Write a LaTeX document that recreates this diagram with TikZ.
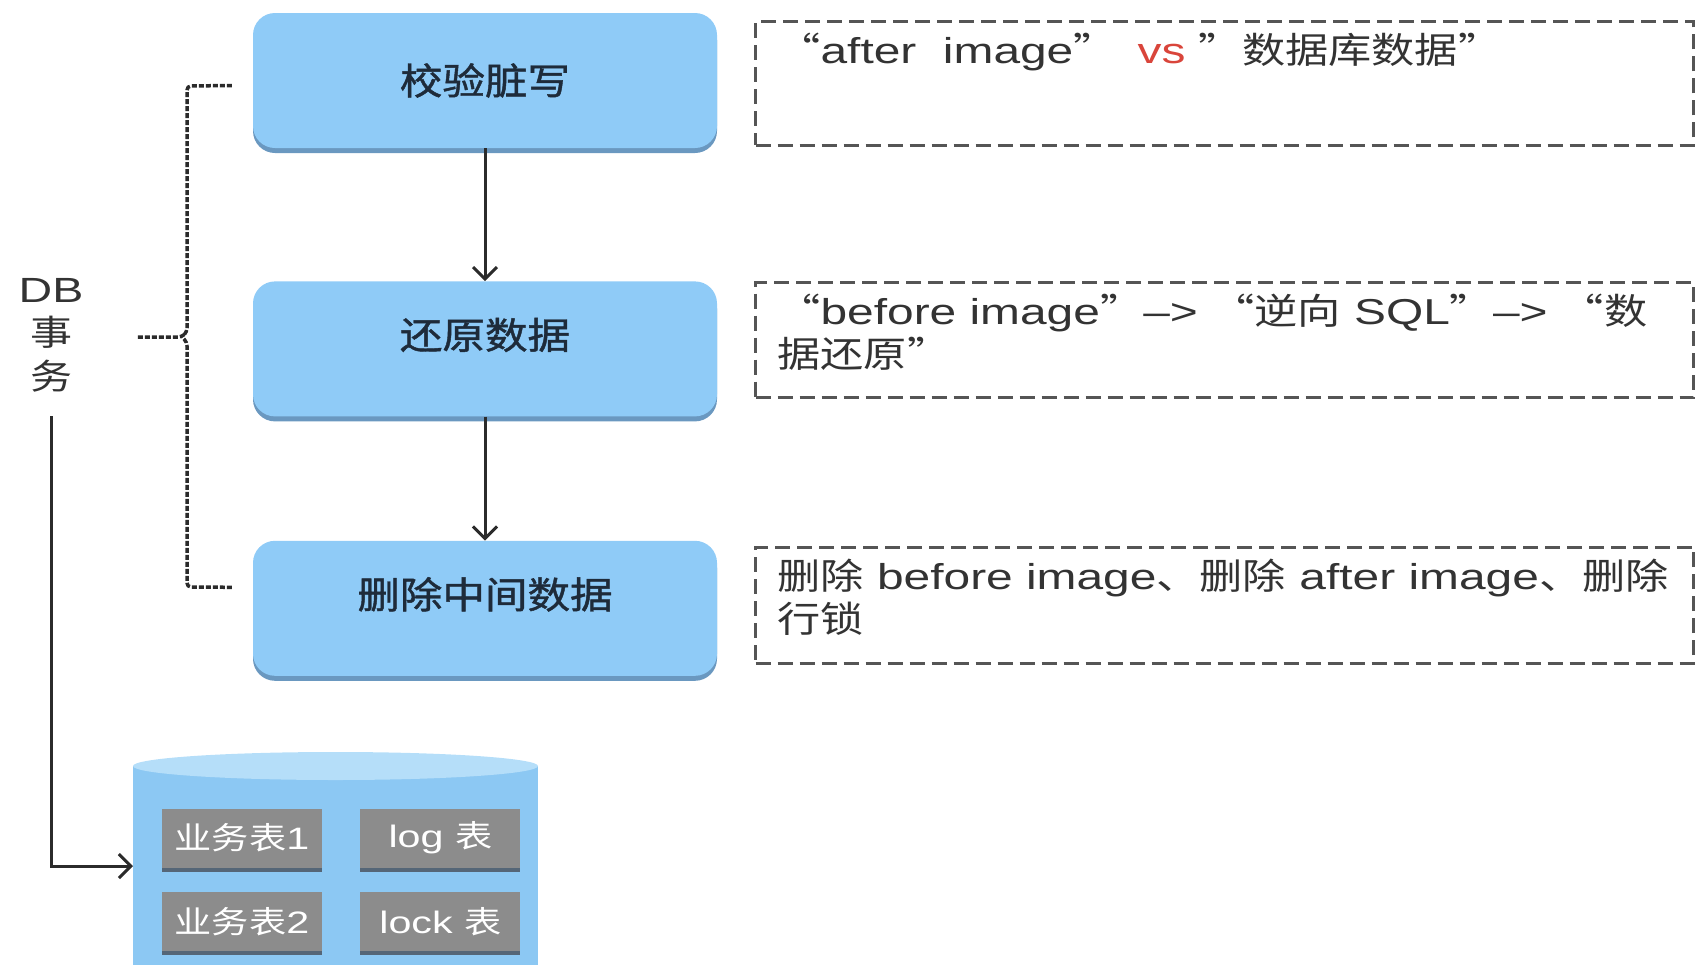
\documentclass[tikz,border=0pt]{standalone}
\usepackage{fontspec}
\setmainfont{Liberation Sans}[FakeStretch=1.33]
\newfontfamily\zh{Noto Sans CJK SC}[FakeStretch=1.2]
\newfontfamily\zhbold{Noto Sans CJK SC}[FakeStretch=1.15, FakeBold=1.2]
\newcommand\tightlines{\lineskiplimit=-30pt\relax}
\usetikzlibrary{arrows.meta, positioning, shadows, calc}

\definecolor{stepblue}{HTML}{8FCBF7}
\definecolor{stepshade}{HTML}{6A98C0}
\definecolor{navytext}{HTML}{1E2B3A}
\definecolor{notegray}{HTML}{555555}
\definecolor{inkgray}{HTML}{333333}
\definecolor{inkdark}{HTML}{2B2B2B}
\definecolor{vsred}{HTML}{D9453B}
\definecolor{dbbody}{HTML}{8CC8F3}
\definecolor{dbtop}{HTML}{B5DEF9}
\definecolor{tblgray}{HTML}{8C8C8C}
\definecolor{tblshade}{HTML}{556677}

\begin{document}
\begin{tikzpicture}[
    x=1pt, y=-1pt,
    stepbox/.style={fill=stepblue, rounded corners=22pt, minimum width=464pt, minimum height=135pt,
        inner sep=0pt, text=navytext, font=\fontsize{37}{40}\selectfont\zhbold,
        drop shadow={shadow xshift=0pt, shadow yshift=-5pt, fill=stepshade, opacity=1}},
    lifted/.style={text depth=31pt},
    note/.style={draw=notegray, line width=3pt, dash pattern=on 15pt off 7pt, minimum width=938pt, inner sep=0pt},
    notetext/.style={anchor=north west, inner sep=0pt, align=left, text=inkgray,
        font=\fontsize{36}{43}\selectfont\tightlines},
    tbl/.style={fill=tblgray, minimum width=160pt, minimum height=59pt, inner sep=0pt, text=white,
        font=\fontsize{31}{31}\selectfont,
        drop shadow={shadow xshift=0pt, shadow yshift=-4pt, fill=tblshade, opacity=1}},
    flow/.style={-{Straight Barb[length=12pt, width=24pt]}, line width=3pt, draw=inkdark},
    bracket/.style={line width=3.5pt, dash pattern=on 5pt off 2pt, draw=inkdark, rounded corners=4pt},
]
    \useasboundingbox (0,0) rectangle (1708,964);

    % Steps of the rollback
    \node[stepbox] (check) at (485,80.5) {校验脏写};
    \node[stepbox, lifted, below=133pt of check] (restore) {还原数据};
    \node[stepbox, lifted, below=124pt of restore] (purge) {删除中间数据};

    \draw[flow] (check.south) -- (restore.north);
    \draw[flow] (restore.south) -- (purge.north);

    % Notes on the right
    \node[note, minimum height=124pt, anchor=north west] (noteA) at ([xshift=37pt, yshift=-7pt]check.north east) {};
    \node[note, minimum height=115pt, anchor=north west] (noteB) at ([xshift=37pt]restore.north east) {};
    \node[note, minimum height=116pt, anchor=north west] (noteC) at ([xshift=37pt, yshift=-5pt]purge.north east) {};

    \node[notetext] (txtA) at ([xshift=23pt, yshift=-13pt]noteA.north west)
        {{\zh “}after\ \ image{\zh ”}\hspace{21pt}\textcolor{vsred}{vs} {\zh ”数据库数据”}};
    \node[notetext] (txtB) at ([xshift=23pt, yshift=-13pt]noteB.north west)
        {{\zh “}before image{\zh ”}–> {\zh “逆向} SQL{\zh ”}–> {\zh “数}\\{\zh 据还原”}};
    \node[notetext] (txtC) at ([xshift=23pt, yshift=-13pt]noteC.north west)
        {{\zh 删除} before image{\zh 、删除} after image{\zh 、删除}\\{\zh 行锁}};

    % DB transaction and its bracket
    \node[align=center, text=inkgray, font=\fontsize{35}{43.5}\selectfont\tightlines] (dbtx) at (51,335) {DB\\{\zh 事}\\{\zh 务}};

    \coordinate (brTop) at ([xshift=-21pt, yshift=-5pt]check.west);
    \coordinate (brBot) at ([xshift=-21pt, yshift=21pt]purge.west);
    \coordinate (brTip) at (137,337);
    \draw[bracket] (brTop) -- (187,86) -- (187,332) -- (182,337) -- (brTip);
    \draw[bracket] (brBot) -- (187,587) -- (187,342) -- (182,337);

    % Database cylinder
    \fill[dbbody] (133,766) rectangle (538,990);
    \fill[dbtop] (335.5,766) ellipse [x radius=202.5, y radius=14];

    \node[tbl] (biz1) at (242,838) {{\zh 业务表}1};
    \node[tbl, right=38pt of biz1] (logt) {log {\zh 表}};
    \node[tbl, below=24pt of biz1] (biz2) {{\zh 业务表}2};
    \node[tbl, right=38pt of biz2] (lockt) {lock {\zh 表}};

    \coordinate (storeIn) at (133,866);
    \draw[flow] ([yshift=-21pt]dbtx.south) |- (storeIn);

\end{tikzpicture}
\end{document}
